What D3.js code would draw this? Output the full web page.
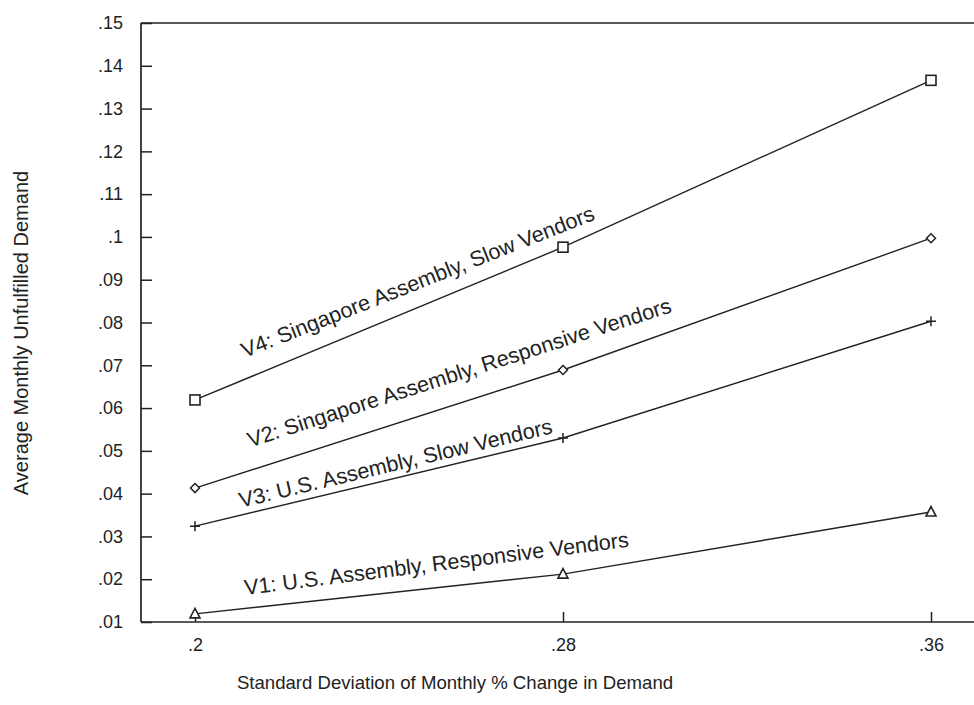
<!DOCTYPE html>
<html>
<head>
<meta charset="utf-8">
<script src="https://cdn.jsdelivr.net/npm/d3@7"></script>
<style>
  html, body { margin: 0; padding: 0; background: #fff; }
  svg { display: block; }
  text { font-family: "Liberation Sans", Arial, sans-serif; fill: #222; }
</style>
</head>
<body>
<svg id="chart" width="974" height="705"></svg>
<script>
// ---- data ----
const xValues = [0.2, 0.28, 0.36];
const xTickLabels = [".2", ".28", ".36"];
const yTicks = [0.01, 0.02, 0.03, 0.04, 0.05, 0.06, 0.07, 0.08, 0.09, 0.10, 0.11, 0.12, 0.13, 0.14, 0.15];
const yTickLabels = [".01", ".02", ".03", ".04", ".05", ".06", ".07", ".08", ".09", ".1", ".11", ".12", ".13", ".14", ".15"];
const seriesNames = ["V4", "V2", "V3", "V1"];
const seriesLabels = [
  "V4: Singapore Assembly, Slow Vendors",
  "V2: Singapore Assembly, Responsive Vendors",
  "V3: U.S. Assembly, Slow Vendors",
  "V1: U.S. Assembly, Responsive Vendors"
];
const v4 = [0.0619, 0.0976, 0.1366];
const v2 = [0.0413, 0.0689, 0.0997];
const v3 = [0.0324, 0.0530, 0.0803];
const v1 = [0.0119, 0.0212, 0.0357];
const markers = ["square", "diamond", "plus", "triangle"];
// label anchors (data coordinates of baseline start)
const labelX = [0.2108, 0.2120, 0.2100, 0.2109];
const labelY = [0.0717, 0.0508, 0.0367, 0.0163];
const xTitle = "Standard Deviation of Monthly % Change in Demand";
const yTitle = "Average Monthly Unfulfilled Demand";

const seriesValues = [v4, v2, v3, v1];

// ---- layout ----
const svg = d3.select("#chart");
const plotLeft = 141, plotRight = 974, plotTop = 23, plotBottom = 622;
const x = d3.scaleLinear().domain([0.2, 0.36]).range([195, 931]);
const y = d3.scaleLinear().domain([0.01, 0.15]).range([plotBottom, plotTop]);
const ink = "#222";
const fontFam = "Liberation Sans, Arial, sans-serif";

// frame lines
svg.append("line").attr("x1", plotLeft).attr("x2", plotRight).attr("y1", plotTop).attr("y2", plotTop)
  .attr("stroke", ink).attr("stroke-width", 1.7);
svg.append("line").attr("x1", plotLeft).attr("x2", plotRight).attr("y1", plotBottom).attr("y2", plotBottom)
  .attr("stroke", ink).attr("stroke-width", 1.7);
svg.append("line").attr("x1", plotLeft).attr("x2", plotLeft).attr("y1", plotTop).attr("y2", plotBottom)
  .attr("stroke", ink).attr("stroke-width", 1.7);

// y axis
const yAxis = d3.axisRight(y).tickValues(yTicks).tickSize(11)
  .tickFormat((d, i) => yTickLabels[i]);
const gy = svg.append("g").attr("transform", `translate(${plotLeft},0)`).call(yAxis);
gy.select(".domain").remove();
gy.selectAll(".tick line").attr("stroke", ink).attr("stroke-width", 1.5);
gy.selectAll(".tick text").attr("x", -18).attr("text-anchor", "end")
  .attr("font-size", 18).attr("fill", ink).style("font-family", fontFam);

// x axis
const xAxis = d3.axisTop(x).tickValues(xValues).tickSize(10)
  .tickFormat((d, i) => xTickLabels[i]);
const gx = svg.append("g").attr("transform", `translate(0,${plotBottom})`).call(xAxis);
gx.select(".domain").remove();
gx.selectAll(".tick line").attr("stroke", ink).attr("stroke-width", 1.5);
gx.selectAll(".tick text").attr("y", 29).attr("dy", 0).attr("text-anchor", "middle")
  .attr("font-size", 18).attr("fill", ink).style("font-family", fontFam);

// lines
const lineGen = d3.line().x((d, i) => x(xValues[i])).y(d => y(d));
seriesValues.forEach((vals) => {
  svg.append("path").datum(vals).attr("d", lineGen)
    .attr("fill", "none").attr("stroke", ink).attr("stroke-width", 1.4);
});

// markers
function drawMarker(g, type, cx, cy) {
  if (type === "square") {
    g.append("rect").attr("x", cx - 5).attr("y", cy - 5).attr("width", 10).attr("height", 10)
      .attr("fill", "#fff").attr("stroke", ink).attr("stroke-width", 1.6);
  } else if (type === "diamond") {
    g.append("path").attr("d", `M${cx},${cy-4.5}L${cx+4.5},${cy}L${cx},${cy+4.5}L${cx-4.5},${cy}Z`)
      .attr("fill", "#fff").attr("stroke", ink).attr("stroke-width", 1.5);
  } else if (type === "plus") {
    g.append("path").attr("d", `M${cx-5},${cy}H${cx+5}M${cx},${cy-5}V${cy+5}`)
      .attr("fill", "none").attr("stroke", ink).attr("stroke-width", 1.5);
  } else if (type === "triangle") {
    g.append("path").attr("d", `M${cx},${cy-5.5}L${cx+5},${cy+4}L${cx-5},${cy+4}Z`)
      .attr("fill", "#fff").attr("stroke", ink).attr("stroke-width", 1.6);
  }
}
seriesValues.forEach((vals, s) => {
  const g = svg.append("g");
  vals.forEach((v, i) => drawMarker(g, markers[s], x(xValues[i]), y(v)));
});

// series labels, rotated along the first segment
seriesValues.forEach((vals, s) => {
  const dx = x(xValues[1]) - x(xValues[0]);
  const dy = y(vals[1]) - y(vals[0]);
  let ang = Math.atan2(dy, dx) * 180 / Math.PI;
  if (s === 0) ang += 1.0;
  if (s === 3) ang -= 1.0;
  const px = x(labelX[s]), py = y(labelY[s]);
  svg.append("text")
    .attr("transform", `translate(${px},${py}) rotate(${ang})`)
    .attr("font-size", 21.6).attr("fill", ink)
    .text(seriesLabels[s]);
});

// axis titles
svg.append("text").attr("x", 455).attr("y", 689).attr("text-anchor", "middle")
  .attr("font-size", 18.6).attr("fill", ink).text(xTitle);
svg.append("text").attr("transform", "translate(28,333) rotate(-90)")
  .attr("text-anchor", "middle").attr("font-size", 20).attr("fill", ink).text(yTitle);
</script>
</body>
</html>
